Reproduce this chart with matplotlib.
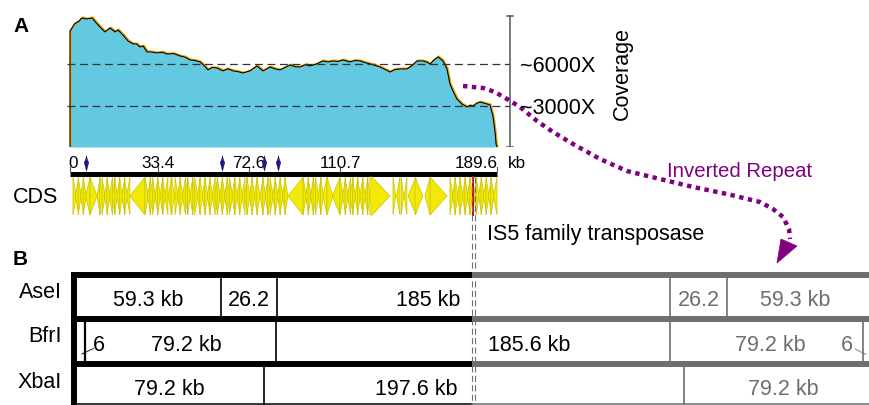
import matplotlib
matplotlib.use('Agg')
import matplotlib.pyplot as plt
import matplotlib.transforms as mtransforms
from matplotlib.patches import Polygon
from matplotlib.path import Path

plt.rcParams['font.family'] = ['Liberation Sans', 'DejaVu Sans']

# ---------------- data ----------------
cov_kb = [0, 0.3, 2, 4, 5.3, 7.5, 9.8, 11.5, 13.3, 15.5, 17.8, 20.0, 21.3, 23.5, 25.8,
          28.0, 29.5, 31.1, 32.5, 34.2, 36, 38.6, 41, 43.1, 46, 48.8, 51, 53.3, 55.5,
          57.7, 59.5, 61.3, 63, 65.3, 67.9, 70, 72.4, 74.5, 76.8, 79.9, 83.0, 85.7,
          88.8, 91, 93.3, 95.5, 97.7, 100, 102.1, 104.5, 106.6, 109.5, 112.3, 114.5,
          116.8, 119, 121.2, 124.3, 126.5, 128.8, 131, 133.2, 135.5, 137.7, 140, 142.1,
          144.3, 146.5, 149.6, 152, 154.1, 156.7, 158.3, 159.9, 161.7, 163.4, 165.6,
          167.4, 168.7, 170.2, 171.8, 174, 176.3, 177.6, 179.0, 180.5, 182.1, 184.3,
          186.5, 187.8, 188.8, 189.2, 189.6]
cov_val = [8400, 8450, 8900, 9100, 9330, 9250, 9330, 9000, 8680, 8320, 8600, 8320, 8460,
           8100, 7660, 7450, 7450, 7230, 7300, 6870, 6870, 6800, 6850, 6720, 6750, 6580,
           6500, 6290, 6250, 6150, 5900, 5570, 5750, 5710, 5500, 5650, 5500, 5450, 5350,
           5500, 5860, 5500, 5780, 5650, 5570, 5750, 5930, 5800, 5780, 5950, 5860, 6000,
           6220, 6150, 6220, 6180, 6290, 6150, 6250, 6220, 6100, 6000, 5900, 5780, 5600,
           5420, 5600, 5640, 5640, 5900, 6220, 6220, 6150, 6000, 6300, 6510, 6220, 5640,
           4560, 4000, 3470, 3100, 2890, 3000, 2960, 3150, 3250, 3150, 3040, 2240, 1000,
           200, 0]
cov_levels = [6000, 3000]
cov_level_labels = ['~6000X', '~3000X']
cov_scalebar_top = 9470

ruler_pos = [0, 39.1, 79.5, 119.9, 189.6]
ruler_labels = ['0', '33.4', '72.6', '110.7', '189.6']
marker_kb = [7.1, 67.5, 86.1, 92.3]
genome_len = 189.6
transposase_kb = 178.9
guide_kb = [178.37, 179.97]

# CDS (start kb, end kb, strand)
cds_genes = [
    (1.3, 2.8, 1), (2.4, 3.9, -1), (3.6, 5.0, 1), (4.7, 6.1, -1), (5.8, 7.2, 1),
    (6.9, 8.9, -1), (8.9, 12.0, 1),
    (12.0, 13.4, -1), (13.1, 14.5, 1), (14.2, 15.6, 1), (15.3, 16.7, -1), (16.4, 17.8, 1),
    (17.5, 18.9, -1), (18.6, 20.0, -1), (19.7, 21.1, 1), (20.8, 22.2, -1), (21.9, 23.3, 1),
    (23.0, 24.4, -1), (24.1, 25.5, 1), (25.2, 26.6, -1),
    (26.6, 33.3, -1),
    (33.3, 34.7, 1), (34.4, 35.8, -1), (35.5, 36.9, 1), (36.6, 38.0, 1), (37.7, 39.1, -1),
    (38.8, 40.2, 1), (39.9, 41.3, -1), (41.0, 42.4, 1), (42.1, 43.5, -1),
    (43.5, 45.3, -1), (44.8, 46.6, 1),
    (46.6, 48.0, 1), (47.7, 49.1, -1), (48.8, 50.2, 1), (49.9, 51.3, -1), (51.0, 52.4, -1),
    (52.1, 53.5, 1), (53.2, 54.6, -1), (54.3, 55.7, 1), (55.4, 56.8, 1), (56.5, 57.9, -1),
    (57.6, 59.0, 1), (58.7, 60.1, -1), (59.8, 61.2, 1), (60.9, 62.3, -1), (62.0, 63.4, 1),
    (63.1, 64.5, -1), (64.2, 65.6, -1), (65.3, 66.7, 1), (66.4, 67.8, -1), (67.5, 68.9, 1),
    (68.6, 70.0, -1), (69.7, 71.1, 1), (70.8, 72.2, 1), (71.9, 73.3, -1), (73.0, 74.4, 1),
    (74.1, 75.5, -1), (75.2, 76.6, 1), (76.3, 77.7, -1), (77.4, 78.8, -1), (78.5, 79.9, 1),
    (79.6, 81.0, -1), (80.7, 82.1, 1), (81.8, 83.2, -1), (82.9, 84.4, 1),
    (84.4, 85.8, -1), (85.5, 86.9, 1), (86.6, 88.0, -1), (87.7, 89.1, 1), (88.8, 90.2, 1),
    (89.9, 91.3, -1), (91.0, 92.4, 1), (92.1, 93.5, -1), (93.2, 94.6, 1), (94.3, 95.7, -1),
    (95.4, 96.8, 1),
    (96.8, 103.5, -1),
    (103.5, 104.9, 1), (104.6, 106.0, -1), (105.7, 107.1, 1), (106.8, 108.2, -1),
    (107.9, 109.3, 1), (109.0, 110.4, 1), (110.1, 111.5, -1), (111.2, 112.6, 1),
    (112.3, 114.1, -1),
    (114.1, 116.8, 1), (116.5, 119.9, -1),
    (119.9, 121.3, 1), (121.0, 122.4, -1), (122.1, 123.5, 1), (123.2, 124.6, -1),
    (124.3, 125.7, -1), (125.4, 126.8, 1), (126.5, 127.9, -1), (127.6, 129.0, 1),
    (128.7, 130.1, -1), (129.8, 131.2, 1), (130.9, 132.3, -1), (132.0, 133.2, 1),
    (133.2, 142.1, 1),
    (143.4, 144.6, 1), (145.0, 146.5, -1), (147.0, 148.2, 1), (148.4, 149.6, -1),
    (150.1, 153.6, -1), (153.2, 156.7, 1), (157.6, 159.9, -1), (159.9, 167.4, 1),
    (168.7, 170.1, 1), (169.8, 171.2, -1), (170.9, 172.3, 1), (172.0, 173.4, -1),
    (173.1, 174.5, 1), (174.2, 175.6, -1), (175.3, 176.7, 1), (176.4, 177.8, -1),
    (177.5, 178.7, 1), (179.3, 180.6, -1), (180.3, 181.7, 1), (181.4, 182.8, -1),
    (182.5, 183.9, 1), (183.6, 185.0, -1), (184.7, 186.1, 1), (185.8, 187.2, -1),
    (186.9, 188.3, 1), (188.0, 189.6, -1),
]

# Panel B restriction map (map coordinates in kb)
enzymes = ['AseI', 'BfrI', 'XbaI']
map_start = 3.1
map_end = 355.2
map_divide = 178.72
sites = {
    'AseI': [67.05, 91.91, 266.42, 291.72],
    'BfrI': [6.66, 91.47, 266.42, 352.11],
    'XbaI': [86.14, 272.63],
}
frag_labels = {
    'AseI': ['59.3 kb', '26.2', '185 kb', '26.2', '59.3 kb'],
    'BfrI': ['6', '79.2 kb', '185.6 kb', '79.2 kb', '6'],
    'XbaI': ['79.2 kb', '197.6 kb', '79.2 kb'],
}
frag_label_x = {
    'AseI': [34.63, 79.48, 173.17, 279.07, 321.92],
    'BfrI': [12.88, 51.51, 185.60, 310.82, 345.01],
    'XbaI': [43.96, 172.28, 316.59],
}
frag_label_ha = {
    'AseI': ['center', 'center', 'right', 'center', 'center'],
    'BfrI': ['center', 'center', 'left', 'center', 'center'],
    'XbaI': ['center', 'right', 'center'],
}

# ---------------- layout ----------------
W, H, DPI = 870, 406, 100
X0 = 70.0                     # pixel of 0 kb
K = 427.0 / 189.6             # pixels per kb
XL = (-X0 / K, (W - X0) / K)

BLACK = '#000000'
GRAY = '#6e6e6e'
PURPLE = '#800080'
FS = 15.5

fig = plt.figure(figsize=(W / DPI, H / DPI), dpi=DPI)

cov_top_px, cov_bot_px = 8, 148
px_per_1000 = 83 / 6.0
ax_cov = fig.add_axes([0, 1 - cov_bot_px / H, 1, (cov_bot_px - cov_top_px) / H])
ax_cov.set_xlim(*XL)
ax_cov.set_ylim(0, (cov_bot_px - cov_top_px) / px_per_1000 * 1000)
ax_cov.axis('off')

xs = [cov_kb[0]] + cov_kb + [cov_kb[-1]]
ys = [0] + cov_val + [0]
ax_cov.fill_between(cov_kb, cov_val, 0, color='#62C9E0', lw=0, zorder=1)
off = mtransforms.ScaledTranslation(0.8 / DPI, 0.6 / DPI, fig.dpi_scale_trans)
ax_cov.plot(xs, ys, color='#F0A500', lw=1.3, zorder=2, transform=ax_cov.transData + off)
ax_cov.plot(xs, ys, color='black', lw=0.8, zorder=3)
for lv in cov_levels:
    ax_cov.plot([-1.33, 195.4], [lv, lv], color='#333333', lw=0.9, dashes=(6.3, 3.7), zorder=4)
sb_x = 195.37
ax_cov.plot([sb_x, sb_x], [0, cov_scalebar_top], color='#555555', lw=1.1, zorder=4)
for yy in (0, cov_scalebar_top):
    ax_cov.plot([sb_x - 1.3, sb_x + 1.3], [yy, yy], color='#555555', lw=1.1, zorder=4)

ax_kb = fig.add_axes([0, 0, 1, 1])
ax_kb.set_xlim(*XL)
ax_kb.set_ylim(H, 0)
ax_kb.axis('off')
ax_kb.patch.set_alpha(0)

ax_px = fig.add_axes([0, 0, 1, 1])
ax_px.set_xlim(0, W)
ax_px.set_ylim(H, 0)
ax_px.axis('off')
ax_px.patch.set_alpha(0)

for lv, lab in zip(cov_levels, cov_level_labels):
    ypx = cov_bot_px - lv / 1000 * px_per_1000
    ax_px.text(520, ypx + 7.5, lab, fontsize=FS, ha='left', va='baseline')
ax_px.text(622.5, 73.5, 'Coverage', fontsize=FS, rotation=90, ha='center', va='center')

# ruler
ax_kb.plot([0, genome_len], [174.5, 174.5], color='black', lw=3.6, solid_capstyle='butt')
has = ['left', 'center', 'center', 'center', 'right']
for p, lab, ha in zip(ruler_pos, ruler_labels, has):
    ax_kb.plot([p, p], [167.5, 172], color='#555555', lw=0.8)
    dx = -0.9 if ha == 'left' else 0.3 if ha == 'right' else 0
    ax_kb.text(p + dx, 168, lab, fontsize=12.3, ha=ha, va='baseline')
ax_px.text(508, 168, 'kb', fontsize=12.3, ha='left', va='baseline')

pin = Path([(0, 1), (0.12, 0.5), (0.3, 0.15), (0, -1), (-0.3, 0.15), (-0.12, 0.5), (0, 1)])
ax_kb.plot(marker_kb, [164] * len(marker_kb), ls='none', marker=pin, markersize=11,
           color='#1a1a8a', mec='#0a0a60', mew=0.3, zorder=5)

# CDS
y0, y1 = 178, 216
ym = (y0 + y1) / 2
for s, e, st in cds_genes:
    L = e - s
    h = min(L, 8.0)
    if st > 0:
        if h >= L:
            v = [(s, y0), (e, ym), (s, y1)]
        else:
            v = [(s, y0), (e - h, y0), (e, ym), (e - h, y1), (s, y1)]
    else:
        if h >= L:
            v = [(e, y0), (s, ym), (e, y1)]
        else:
            v = [(e, y0), (s + h, y0), (s, ym), (s + h, y1), (e, y1)]
    ax_kb.add_patch(Polygon(v, closed=True, fc='#F2EA05', ec='#CCC300', lw=0.5, zorder=3))
ax_kb.plot([transposase_kb, transposase_kb], [y0, y1], color='#E00000', lw=1.5, zorder=4)
ax_px.text(13, 203, 'CDS', fontsize=FS, ha='left', va='baseline')

for g in guide_kb:
    ax_kb.plot([g, g], [178, 406], color='#707070', lw=0.8, dashes=(5.5, 3.0), zorder=6)
ax_px.text(487, 240, 'IS5 family transposase', fontsize=FS, ha='left', va='baseline')

ax_px.text(13, 32, 'A', fontsize=15, fontweight='bold', ha='left', va='baseline')
ax_px.text(13, 265, 'B', fontsize=15, fontweight='bold', ha='left', va='baseline')

# Inverted repeat arrow
ir_x = [463, 483, 495, 507, 520, 537, 553, 573, 600, 627, 660, 693, 727, 760, 773, 783, 789, 790]
ir_y = [87, 89, 93, 100, 108, 122, 133, 145, 160, 172, 180, 188, 195, 203, 210, 218, 230, 240]
ax_px.plot(ir_x, ir_y, color=PURPLE, lw=3.2, dashes=(1.0, 1.0), dash_capstyle='butt')
ax_px.add_patch(Polygon([(777, 264), (781, 240), (797, 247)], closed=True, fc=PURPLE,
                        ec=PURPLE, lw=0.5))
ax_px.text(667, 177, 'Inverted Repeat', fontsize=14.7, color=PURPLE, ha='left', va='baseline')

# Panel B
row_top = [279, 323, 367]
row_bot = [317, 362, 405]
row_label_base = [298, 342, 388]
frag_label_base = [306, 351, 395]
thick_y = [276, 320, 364.5]
lw_thick = 4.3

for i, enz in enumerate(enzymes):
    st = sites[enz]
    for s in st:
        col = BLACK if s < map_divide else GRAY
        ax_kb.plot([s, s], [row_top[i] - 1, row_bot[i] + 1], color=col,
                   lw=1.6 if s < 20 else 1.2, zorder=3)
    bounds = [map_start] + st + [map_end]
    for j, (lab, lx, ha) in enumerate(zip(frag_labels[enz], frag_label_x[enz], frag_label_ha[enz])):
        col = BLACK if bounds[j] < map_divide else GRAY
        ax_kb.text(lx, frag_label_base[i], lab, fontsize=FS, ha=ha, va='baseline', color=col)
    ax_px.text(62, row_label_base[i], enz, fontsize=FS, ha='right', va='baseline')

ax_kb.plot([5.2, 10.4], [355, 349.5], color=BLACK, lw=0.6)
ax_kb.plot([348.6, 353.4], [350, 355.5], color=GRAY, lw=0.6)

for ty in thick_y:
    ax_kb.plot([(71 - X0) / K, map_divide], [ty, ty], color=BLACK, lw=lw_thick,
               solid_capstyle='butt', zorder=4)
    ax_kb.plot([map_divide, map_end], [ty, ty], color=GRAY, lw=lw_thick,
               solid_capstyle='butt', zorder=4)
ax_kb.plot([map_start, map_divide], [405, 405], color=BLACK, lw=1.1, zorder=4)
ax_kb.plot([map_divide, map_end], [405, 405], color=GRAY, lw=1.1, zorder=4)
ax_kb.plot([1.78, 1.78], [273, 406], color=BLACK, lw=lw_thick, solid_capstyle='butt', zorder=5)

fig.savefig('out.png', dpi=DPI)
